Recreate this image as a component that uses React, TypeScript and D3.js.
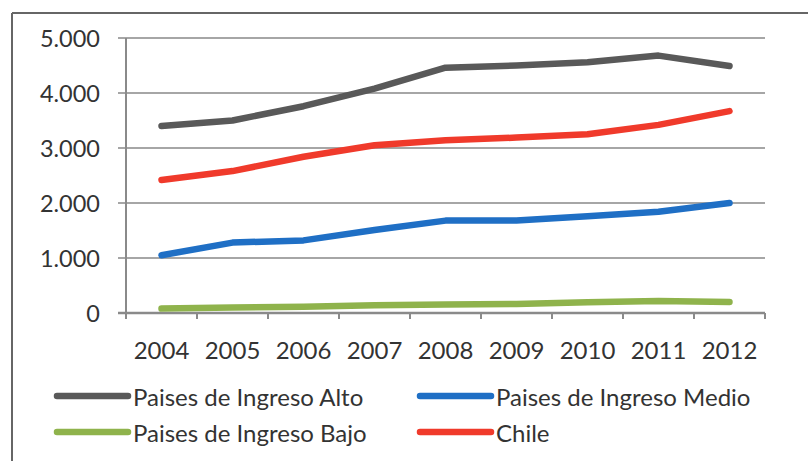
import React from 'react';
import * as d3 from 'd3';

const years = ['2004', '2005', '2006', '2007', '2008', '2009', '2010', '2011', '2012'];
const alto = [3400, 3500, 3760, 4080, 4460, 4500, 4560, 4680, 4490];
const medio = [1050, 1280, 1320, 1510, 1680, 1680, 1760, 1840, 2000];
const bajo = [80, 100, 115, 140, 155, 165, 195, 220, 200];
const chile = [2420, 2580, 2840, 3050, 3140, 3190, 3250, 3420, 3670];
const yTicks = [0, 1000, 2000, 3000, 4000, 5000];

const series = [
  { name: 'Paises de Ingreso Alto', values: alto, color: '#595959' },
  { name: 'Paises de Ingreso Medio', values: medio, color: '#1f6fc5' },
  { name: 'Paises de Ingreso Bajo', values: bajo, color: '#8fb34c' },
  { name: 'Chile', values: chile, color: '#f03a2b' },
];

const font = 'Lato, Calibri, sans-serif';
const textColor = '#333';
const fmt = (v: number) => d3.format(',')(v).replace(/,/g, '.');

const App: React.FC = () => {
  const left = 126, right = 765, top = 38, bottom = 313;
  const x = d3.scaleBand<string>().domain(years).range([left, right]);
  const y = d3.scaleLinear().domain([0, 5000]).range([bottom, top]);
  const line = d3.line<number>()
    .x((_, i) => x(years[i])! + x.bandwidth() / 2)
    .y(d => y(d));

  const legendPos = [
    { lx: 57, ty: 396 },
    { lx: 420, ty: 396 },
    { lx: 57, ty: 432 },
    { lx: 420, ty: 432 },
  ];

  return (
    <svg width={808} height={461} style={{ position: 'absolute', left: 0, top: 0, background: '#fff' }}>
      {/* frame */}
      <line x1={12} x2={808} y1={13} y2={13} stroke="#666" strokeWidth={2} />
      <line x1={12} x2={12} y1={13} y2={461} stroke="#666" strokeWidth={2} />

      {/* grid + y ticks */}
      {yTicks.map(t => (
        <g key={t}>
          <line x1={left - 8} x2={right} y1={y(t)} y2={y(t)}
            stroke={t === 0 ? '#8a8a8a' : '#a6a6a6'} strokeWidth={t === 0 ? 2.5 : 2} />
          <text x={100} y={y(t)} textAnchor="end" dominantBaseline="central"
            fontFamily={font} fontSize={23.5} fill={textColor}>{fmt(t)}</text>
        </g>
      ))}
      <line x1={left} x2={left} y1={top} y2={bottom + 6} stroke="#8a8a8a" strokeWidth={2} />

      {/* x ticks */}
      {years.map(yr => (
        <line key={'t' + yr} x1={x(yr)! + x.bandwidth()} x2={x(yr)! + x.bandwidth()}
          y1={bottom} y2={bottom + 6} stroke="#8a8a8a" strokeWidth={2} />
      ))}
      {years.map(yr => (
        <text key={yr} x={x(yr)! + x.bandwidth() / 2} y={349} textAnchor="middle"
          dominantBaseline="central" fontFamily={font} fontSize={24} fill={textColor}>{yr}</text>
      ))}

      {/* series */}
      {series.map(s => (
        <path key={s.name} d={line(s.values)!} fill="none" stroke={s.color}
          strokeWidth={6.5} strokeLinecap="round" strokeLinejoin="round" />
      ))}

      {/* legend */}
      {series.map((s, i) => (
        <g key={'lg' + s.name}>
          <line x1={legendPos[i].lx} x2={legendPos[i].lx + 71} y1={legendPos[i].ty} y2={legendPos[i].ty}
            stroke={s.color} strokeWidth={6.5} strokeLinecap="round" />
          <text x={legendPos[i].lx + 76} y={legendPos[i].ty} dominantBaseline="central"
            fontFamily={font} fontSize={24} fill={textColor}>{s.name}</text>
        </g>
      ))}
    </svg>
  );
};

export default App;
